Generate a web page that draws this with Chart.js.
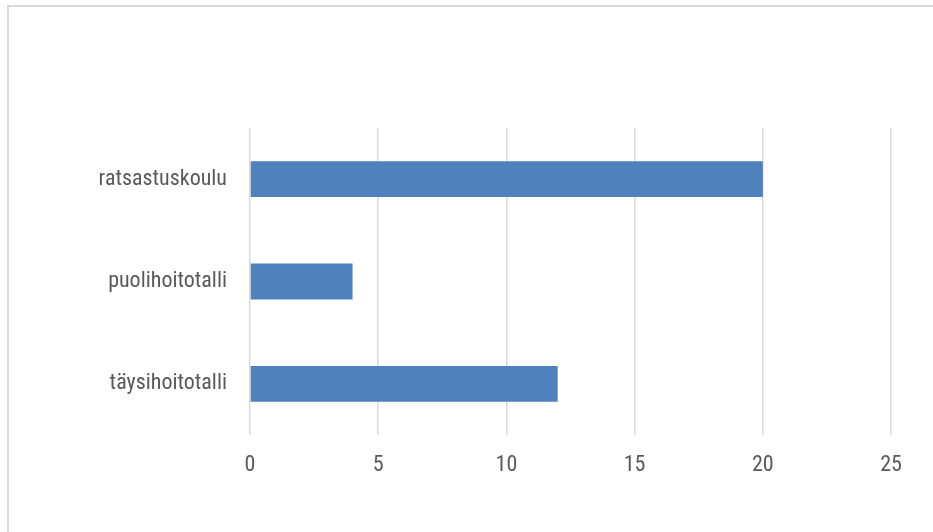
<!DOCTYPE html>
<html>
<head>
<meta charset="utf-8">
<script src="https://cdn.jsdelivr.net/npm/chart.js@4/dist/chart.umd.min.js"></script>
<style>
  html, body { margin: 0; padding: 0; background: #fff; overflow: hidden; }
  #frame { position: absolute; left: 7px; top: 5px; width: 960px; height: 560px; border: 2px solid #d9d9d9; }
  #wrap { position: absolute; left: 0; top: 0; width: 933px; height: 532px; }
</style>
</head>
<body>
<div id="frame"></div>
<div id="wrap"><canvas id="myChart" width="933" height="532"></canvas></div>
<script>
// data
const categories = ['ratsastuskoulu', 'puolihoitotalli', 'täysihoitotalli'];
const values = [20, 4, 12];
const xTicks = [0, 5, 10, 15, 20, 25];

const labelFont = { family: "'Roboto Condensed', 'Liberation Sans', Arial, sans-serif", size: 22 };

var ctx = document.getElementById('myChart').getContext('2d');
var chart = new Chart(ctx, {
    type: 'bar',
    data: {
        labels: categories,
        datasets: [{
            data: values,
            backgroundColor: '#4f81bd',
            borderColor: '#4f81bd',
            borderWidth: 0,
            barPercentage: 0.35,
            categoryPercentage: 1
        }]
    },
    options: {
        indexAxis: 'y',
        responsive: false,
        animation: false,
        layout: { padding: { top: 128, right: 42, left: 0, bottom: 0 } },
        plugins: { legend: { display: false }, tooltip: { enabled: false } },
        scales: {
            x: {
                min: 0,
                max: 25,
                afterBuildTicks: s => { s.ticks = xTicks.map(v => ({ value: v })); },
                grid: { color: '#d9d9d9', lineWidth: 1.5, drawTicks: false },
                border: { display: false },
                ticks: { color: '#595959', font: labelFont, padding: 17 },
                afterFit: s => { s.height = 532 - 435; }
            },
            y: {
                grid: { display: false },
                border: { display: false },
                ticks: { color: '#595959', font: labelFont, padding: 15 },
                afterFit: s => { s.width = 250; }
            }
        }
    }
});
</script>
</body>
</html>
